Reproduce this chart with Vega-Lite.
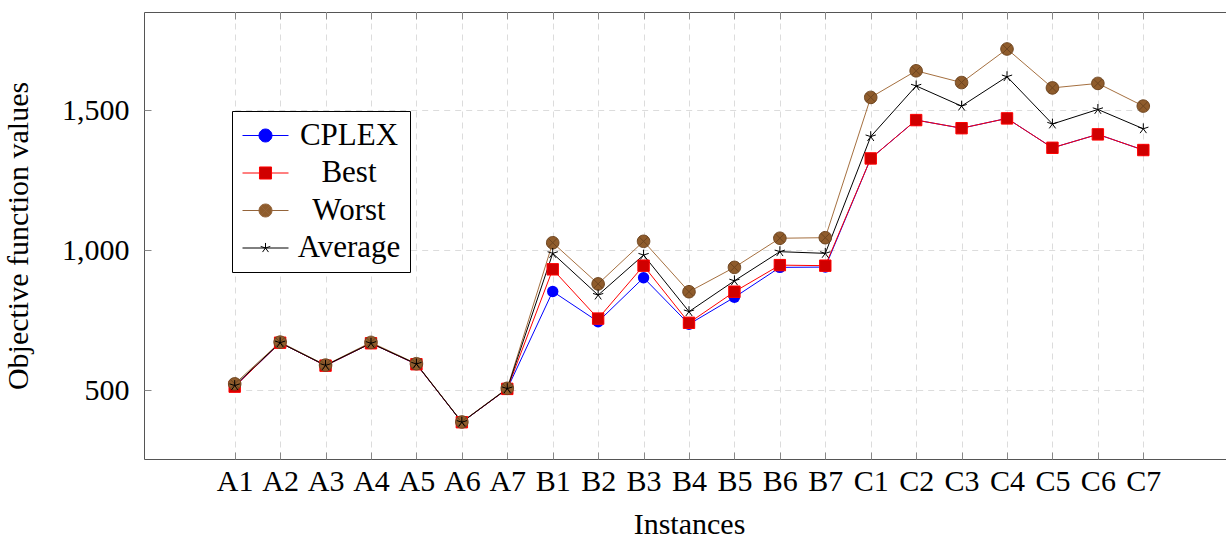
{
  "$schema": "https://vega.github.io/schema/vega-lite/v6.json",
  "autosize": {"type": "none"},
  "width": 1090,
  "height": 447,
  "padding": {"left": 144, "top": 12, "right": -8, "bottom": 76},
  "background": "white",
  "config": {
    "view": {"stroke": "#555", "strokeWidth": 1},
    "font": "Liberation Serif",
    "axis": {
      "labelFont": "Liberation Serif",
      "titleFont": "Liberation Serif",
      "labelFontSize": 30,
      "titleFontSize": 30,
      "titleFontWeight": "normal",
      "labelColor": "#000",
      "titleColor": "#000",
      "gridColor": "#dcdcdc",
      "gridDash": [6, 5],
      "gridWidth": 1,
      "tickColor": "#888",
      "tickWidth": 1,
      "domain": false
    },
    "legend": {
      "title": null,
      "labelAlign": "center",
      "labelOffset": 77,
      "symbolSize": 784,
      "symbolStrokeWidth": 1,
      "rowPadding": 5.5,
      "padding": 9,
      "strokeColor": "#000",
      "fillColor": "#fff",
      "labelFont": "Liberation Serif",
      "labelFontSize": 31,
      "labelColor": "#000",
      "labelLimit": 0
    }
  },
  "datasets": {
    "d": [
      {"instance": "A1", "series": "CPLEX", "value": 512},
      {"instance": "A2", "series": "CPLEX", "value": 669},
      {"instance": "A3", "series": "CPLEX", "value": 587},
      {"instance": "A4", "series": "CPLEX", "value": 667},
      {"instance": "A5", "series": "CPLEX", "value": 592},
      {"instance": "A6", "series": "CPLEX", "value": 385},
      {"instance": "A7", "series": "CPLEX", "value": 504},
      {"instance": "B1", "series": "CPLEX", "value": 852},
      {"instance": "B2", "series": "CPLEX", "value": 744},
      {"instance": "B3", "series": "CPLEX", "value": 901},
      {"instance": "B4", "series": "CPLEX", "value": 735},
      {"instance": "B5", "series": "CPLEX", "value": 831},
      {"instance": "B6", "series": "CPLEX", "value": 938},
      {"instance": "B7", "series": "CPLEX", "value": 939},
      {"instance": "C1", "series": "CPLEX", "value": 1327},
      {"instance": "C2", "series": "CPLEX", "value": 1464},
      {"instance": "C3", "series": "CPLEX", "value": 1435},
      {"instance": "C4", "series": "CPLEX", "value": 1470},
      {"instance": "C5", "series": "CPLEX", "value": 1365},
      {"instance": "C6", "series": "CPLEX", "value": 1413},
      {"instance": "C7", "series": "CPLEX", "value": 1357},
      {"instance": "A1", "series": "Best", "value": 512},
      {"instance": "A2", "series": "Best", "value": 669},
      {"instance": "A3", "series": "Best", "value": 587},
      {"instance": "A4", "series": "Best", "value": 667},
      {"instance": "A5", "series": "Best", "value": 592},
      {"instance": "A6", "series": "Best", "value": 385},
      {"instance": "A7", "series": "Best", "value": 504},
      {"instance": "B1", "series": "Best", "value": 931},
      {"instance": "B2", "series": "Best", "value": 755},
      {"instance": "B3", "series": "Best", "value": 944},
      {"instance": "B4", "series": "Best", "value": 740},
      {"instance": "B5", "series": "Best", "value": 851},
      {"instance": "B6", "series": "Best", "value": 946},
      {"instance": "B7", "series": "Best", "value": 944},
      {"instance": "C1", "series": "Best", "value": 1327},
      {"instance": "C2", "series": "Best", "value": 1464},
      {"instance": "C3", "series": "Best", "value": 1435},
      {"instance": "C4", "series": "Best", "value": 1470},
      {"instance": "C5", "series": "Best", "value": 1365},
      {"instance": "C6", "series": "Best", "value": 1413},
      {"instance": "C7", "series": "Best", "value": 1357},
      {"instance": "A1", "series": "Worst", "value": 522},
      {"instance": "A2", "series": "Worst", "value": 671},
      {"instance": "A3", "series": "Worst", "value": 589},
      {"instance": "A4", "series": "Worst", "value": 670},
      {"instance": "A5", "series": "Worst", "value": 594},
      {"instance": "A6", "series": "Worst", "value": 386},
      {"instance": "A7", "series": "Worst", "value": 506},
      {"instance": "B1", "series": "Worst", "value": 1026},
      {"instance": "B2", "series": "Worst", "value": 879},
      {"instance": "B3", "series": "Worst", "value": 1031},
      {"instance": "B4", "series": "Worst", "value": 851},
      {"instance": "B5", "series": "Worst", "value": 938},
      {"instance": "B6", "series": "Worst", "value": 1042},
      {"instance": "B7", "series": "Worst", "value": 1044},
      {"instance": "C1", "series": "Worst", "value": 1545},
      {"instance": "C2", "series": "Worst", "value": 1640},
      {"instance": "C3", "series": "Worst", "value": 1598},
      {"instance": "C4", "series": "Worst", "value": 1718},
      {"instance": "C5", "series": "Worst", "value": 1579},
      {"instance": "C6", "series": "Worst", "value": 1595},
      {"instance": "C7", "series": "Worst", "value": 1514},
      {"instance": "A1", "series": "Average", "value": 516},
      {"instance": "A2", "series": "Average", "value": 669},
      {"instance": "A3", "series": "Average", "value": 588},
      {"instance": "A4", "series": "Average", "value": 667},
      {"instance": "A5", "series": "Average", "value": 593},
      {"instance": "A6", "series": "Average", "value": 385},
      {"instance": "A7", "series": "Average", "value": 505},
      {"instance": "B1", "series": "Average", "value": 988},
      {"instance": "B2", "series": "Average", "value": 839},
      {"instance": "B3", "series": "Average", "value": 982},
      {"instance": "B4", "series": "Average", "value": 780},
      {"instance": "B5", "series": "Average", "value": 890},
      {"instance": "B6", "series": "Average", "value": 994},
      {"instance": "B7", "series": "Average", "value": 988},
      {"instance": "C1", "series": "Average", "value": 1405},
      {"instance": "C2", "series": "Average", "value": 1586},
      {"instance": "C3", "series": "Average", "value": 1514},
      {"instance": "C4", "series": "Average", "value": 1619},
      {"instance": "C5", "series": "Average", "value": 1450},
      {"instance": "C6", "series": "Average", "value": 1502},
      {"instance": "C7", "series": "Average", "value": 1433}
    ]
  },
  "data": {"name": "d"},
  "encoding": {
    "y": {
      "field": "value", "type": "quantitative",
      "scale": {"domain": [253.6, 1850], "nice": false, "zero": false},
      "axis": {"values": [500, 1000, 1500], "format": ",d", "title": "Objective function values", "labelPadding": 22, "titlePadding": 28, "grid": true, "tickSize": -7}
    }
  },
  "layer": [
    {
      "mark": {"type": "line", "strokeWidth": 1},
      "encoding": {
        "x": {
          "field": "instance", "type": "ordinal", "sort": null,
          "scale": {"type": "point", "padding": 0, "range": [90.7, 999.3]},
          "axis": {"orient": "bottom", "title": "Instances", "labelAngle": 0, "labelPadding": 14, "titlePadding": 13, "tickSize": -7, "grid": true}
        },
        "color": {
          "field": "series", "type": "nominal",
          "scale": {"domain": ["Average", "Worst", "Best", "CPLEX"], "range": ["#000000", "#a57040", "#ff0000", "#0000ff"]},
          "legend": null
        }
      }
    },
    {
      "transform": [{"filter": "datum.series == 'CPLEX'"}],
      "mark": {"type": "point", "shape": "circle", "filled": true, "fill": "#0000ff", "strokeWidth": 0, "size": 130, "opacity": 1},
      "encoding": {
        "x": {"field": "instance", "type": "ordinal", "sort": null, "axis": null}
      }
    },
    {
      "transform": [{"filter": "datum.series == 'Best'"}],
      "mark": {"type": "point", "shape": "square", "filled": true, "fill": "#d00000", "stroke": "#ff0000", "strokeWidth": 1, "size": 130, "opacity": 1},
      "encoding": {
        "x": {"field": "instance", "type": "ordinal", "sort": null, "axis": null}
      }
    },
    {
      "transform": [{"filter": "datum.series == 'Worst'"}],
      "mark": {"type": "point", "shape": "M-1.1,0A1.1,1.1,0,1,0,1.1,0A1.1,1.1,0,1,0,-1.1,0ZM-0.75,-0.75L0.75,0.75M-0.75,0.75L0.75,-0.75", "filled": true, "fill": "#8f5c2c", "stroke": "#6e4520", "strokeWidth": 1, "size": 130, "opacity": 1},
      "encoding": {
        "x": {"field": "instance", "type": "ordinal", "sort": null, "axis": null}
      }
    },
    {
      "transform": [{"filter": "datum.series == 'Average'"}],
      "mark": {"type": "point", "shape": "M0,-0.95L0,0M0.9,-0.29L0,0M0.56,0.77L0,0M-0.56,0.77L0,0M-0.9,-0.29L0,0", "filled": false, "stroke": "#000000", "strokeWidth": 1, "size": 130, "opacity": 1},
      "encoding": {
        "x": {"field": "instance", "type": "ordinal", "sort": null, "axis": {"orient": "top", "labels": false, "title": null, "grid": false, "tickSize": -7}}
      }
    },
    {
      "transform": [{"filter": "datum.value < 0"}],
      "mark": {"type": "point", "filled": true, "strokeWidth": 1, "opacity": 1},
      "encoding": {
        "x": {"field": "instance", "type": "ordinal", "sort": null, "axis": null},
        "shape": {
          "field": "series", "type": "nominal",
          "scale": {"domain": ["CPLEX", "Best", "Worst", "Average"], "range": [
            "M-1,0L0.179,0M1.107,0L2.286,0M0.179,0A0.464,0.464,0,1,0,1.107,0A0.464,0.464,0,1,0,0.179,0Z",
            "M-1,0L0.213,0M1.073,0L2.286,0M0.213,-0.43L1.073,-0.43L1.073,0.43L0.213,0.43Z",
            "M-1,0L0.179,0M1.107,0L2.286,0M0.179,0A0.464,0.464,0,1,0,1.107,0A0.464,0.464,0,1,0,0.179,0ZM0.313,-0.33L0.973,0.33M0.313,0.33L0.973,-0.33",
            "M-1,0L2.286,0M0.643,0L0.643,-0.36M0.643,0L0.985,-0.111M0.643,0L0.855,0.291M0.643,0L0.431,0.291M0.643,0L0.301,-0.111"
          ]},
          "legend": {"orient": "none", "legendX": 88, "legendY": 99}
        },
        "fill": {
          "field": "series", "type": "nominal",
          "scale": {"domain": ["CPLEX", "Best", "Worst", "Average"], "range": ["#0000ff", "#d00000", "#8f5c2c", "#000000"]},
          "legend": {"orient": "none", "legendX": 88, "legendY": 99}
        },
        "stroke": {
          "field": "series", "type": "nominal",
          "scale": {"domain": ["CPLEX", "Best", "Worst", "Average"], "range": ["#0000ff", "#ff0000", "#94643a", "#000000"]},
          "legend": {"orient": "none", "legendX": 88, "legendY": 99}
        }
      }
    }
  ],
  "resolve": {"axis": {"x": "independent"}}
}
